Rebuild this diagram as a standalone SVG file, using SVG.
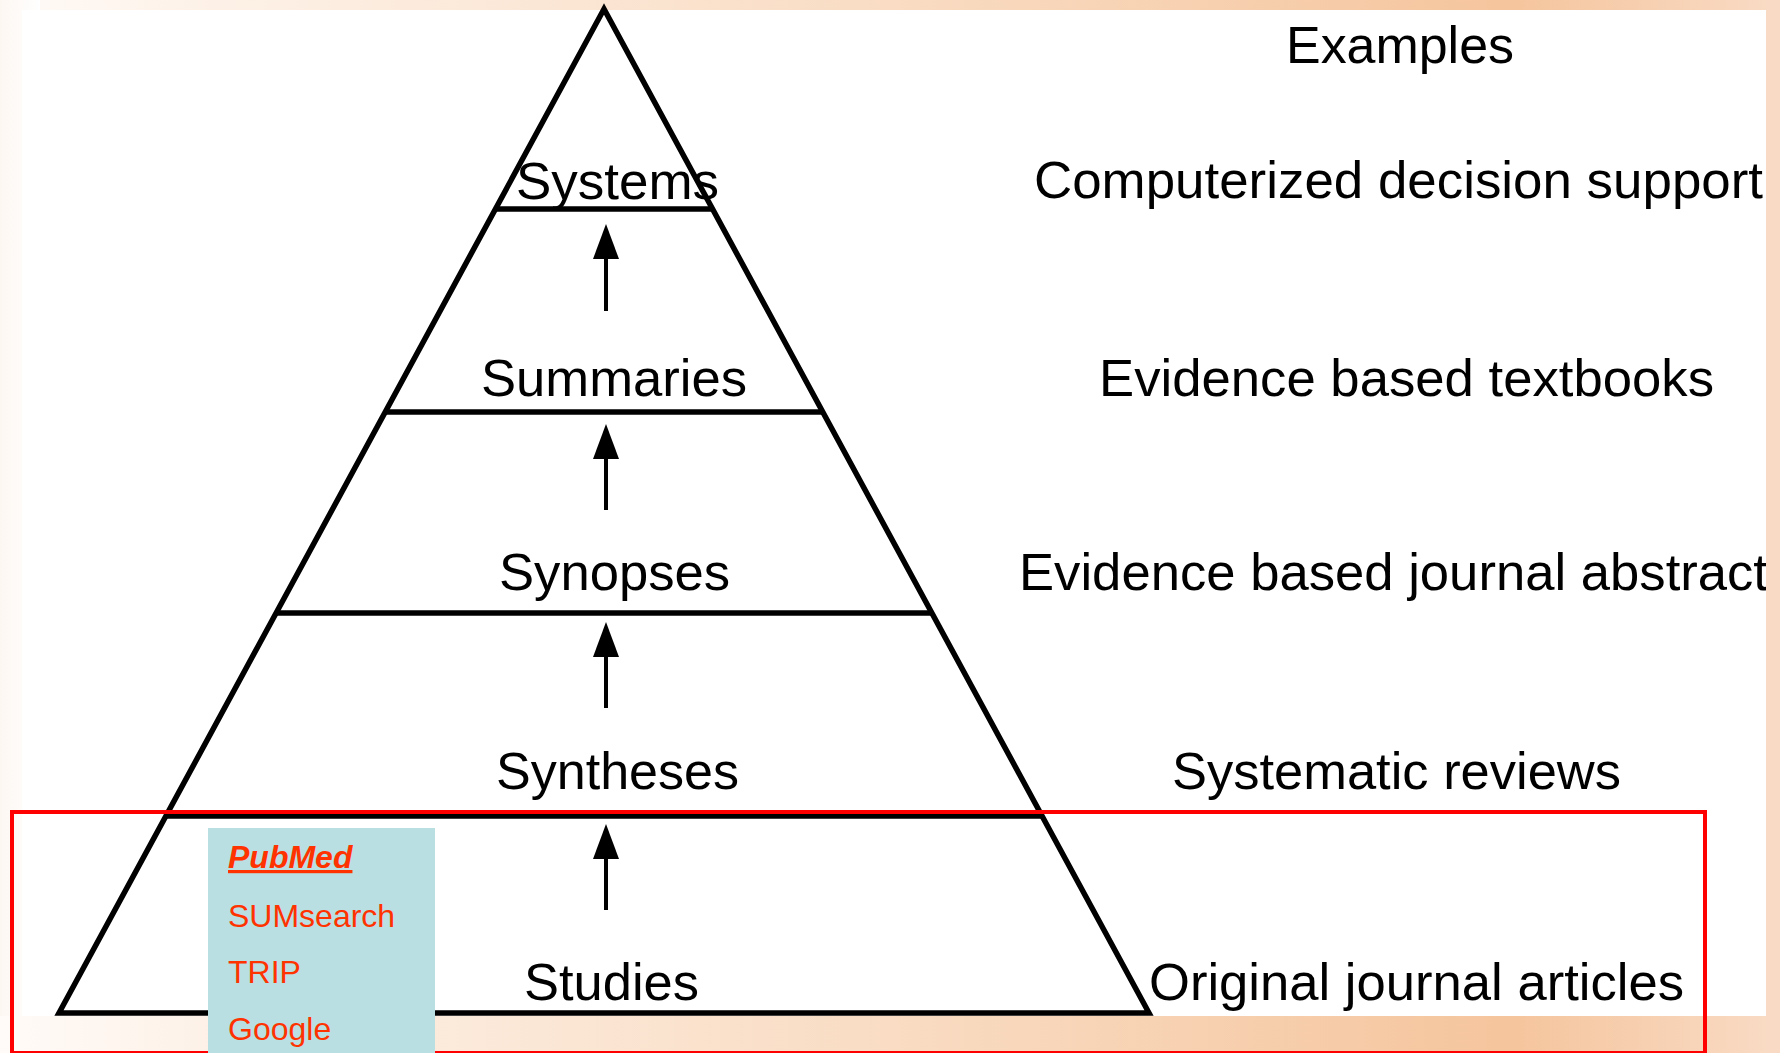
<svg xmlns="http://www.w3.org/2000/svg" width="1780" height="1053" viewBox="0 0 1780 1053">
  <defs>
    <linearGradient id="bg" x1="0" y1="0" x2="1" y2="0">
      <stop offset="0" stop-color="#fffbf8"/>
      <stop offset="0.12" stop-color="#fdf1e7"/>
      <stop offset="0.5" stop-color="#f9dcc3"/>
      <stop offset="0.85" stop-color="#f5c59d"/>
      <stop offset="1" stop-color="#f9dbc5"/>
    </linearGradient>
    <linearGradient id="leftfade" x1="0" y1="0" x2="1" y2="0">
      <stop offset="0" stop-color="#fdf7f2"/>
      <stop offset="1" stop-color="#ffffff"/>
    </linearGradient>
    <marker id="head" markerUnits="userSpaceOnUse" markerWidth="36" markerHeight="26" refX="0" refY="13" orient="auto" overflow="visible">
      <path d="M0,0 L35,13 L0,26 Z" fill="#000"/>
    </marker>
    <style>
      .lvl { font-family: "Liberation Sans", Arial, sans-serif; font-size: 52px; fill: #000; }
      .ex { font-family: "Liberation Sans", Arial, sans-serif; font-size: 52px; fill: #000; }
      .src { font-family: "Liberation Sans", Arial, sans-serif; font-size: 32px; fill: #ff3300; }
      .edge { stroke: #000; stroke-width: 4; fill: none; }
      .tier { stroke: #000; stroke-width: 5.5; fill: none; }
    </style>
  </defs>

  <!-- background -->
  <rect x="0" y="0" width="1780" height="1053" fill="url(#bg)"/>
  <rect x="0" y="0" width="40" height="1016" fill="url(#leftfade)"/>
  <rect x="22" y="10" width="1744" height="1006" fill="#ffffff"/>

  <!-- pyramid -->
  <g id="pyramid">
    <polygon class="tier" points="604,9 59,1013 1149,1013" stroke-linejoin="miter"/>
    <line class="tier" x1="495" y1="209" x2="713" y2="209"/>
    <line class="tier" x1="385" y1="412" x2="823" y2="412"/>
    <line class="tier" x1="276" y1="613" x2="932" y2="613"/>
    <line class="tier" x1="166" y1="816" x2="1042" y2="816"/>
  </g>

  <g id="node-systems">
    <text class="lvl" x="516" y="199" textLength="203" lengthAdjust="spacingAndGlyphs">Systems</text>
  </g>
  <g id="node-summaries">
    <text class="lvl" x="481" y="396" textLength="266" lengthAdjust="spacingAndGlyphs">Summaries</text>
  </g>
  <g id="node-synopses">
    <text class="lvl" x="499" y="590" textLength="231" lengthAdjust="spacingAndGlyphs">Synopses</text>
  </g>
  <g id="node-syntheses">
    <text class="lvl" x="496" y="789" textLength="243" lengthAdjust="spacingAndGlyphs">Syntheses</text>
  </g>
  <g id="node-studies">
    <text class="lvl" x="524" y="1000" textLength="175" lengthAdjust="spacingAndGlyphs">Studies</text>
  </g>

  <!-- connectors -->
  <g id="connectors">
    <line class="edge" x1="606" y1="311" x2="606" y2="259" marker-end="url(#head)"/>
    <line class="edge" x1="606" y1="510" x2="606" y2="459" marker-end="url(#head)"/>
    <line class="edge" x1="606" y1="708" x2="606" y2="657" marker-end="url(#head)"/>
    <line class="edge" x1="606" y1="910" x2="606" y2="859" marker-end="url(#head)"/>
  </g>

  <!-- examples column -->
  <g id="examples">
    <text class="ex" x="1286" y="63" textLength="228" lengthAdjust="spacingAndGlyphs">Examples</text>
    <text class="ex" x="1034" y="198" textLength="729" lengthAdjust="spacingAndGlyphs">Computerized decision support</text>
    <text class="ex" x="1099" y="396" textLength="615" lengthAdjust="spacingAndGlyphs">Evidence based textbooks</text>
    <text class="ex" x="1019" y="590" textLength="749" lengthAdjust="spacingAndGlyphs">Evidence based journal abstract</text>
    <text class="ex" x="1172" y="789" textLength="449" lengthAdjust="spacingAndGlyphs">Systematic reviews</text>
    <text class="ex" x="1149" y="1000" textLength="535" lengthAdjust="spacingAndGlyphs">Original journal articles</text>
  </g>

  <!-- right edge cover (white area clip) -->
  <rect x="1766" y="0" width="14" height="1053" fill="#f9dbc5"/>

  <!-- highlight box -->
  <g id="highlight">
    <rect x="12" y="812" width="1693" height="241" fill="none" stroke="#ff0000" stroke-width="4"/>
  </g>

  <!-- sources panel -->
  <g id="sources">
    <rect x="208" y="828" width="227" height="225" fill="#b9dfe3"/>
    <text class="src" x="228" y="868" font-weight="bold" font-style="italic" text-decoration="underline">PubMed</text>
    <text class="src" x="228" y="927">SUMsearch</text>
    <text class="src" x="228" y="983">TRIP</text>
    <text class="src" x="228" y="1040">Google</text>
  </g>
</svg>
